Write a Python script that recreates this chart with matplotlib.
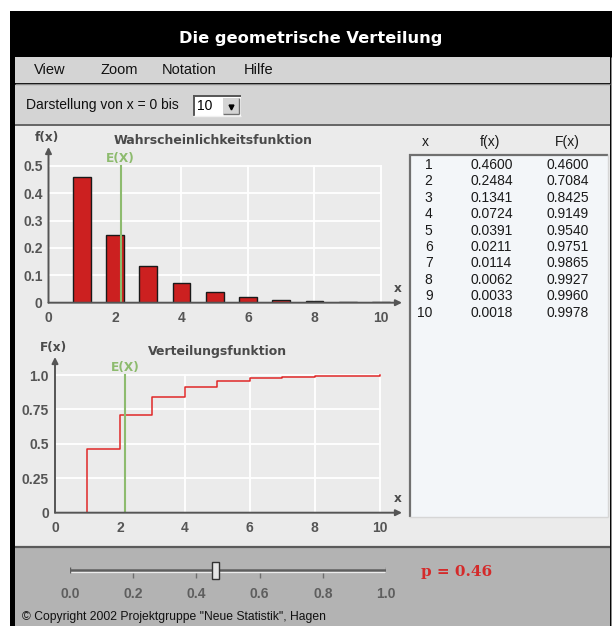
import matplotlib
matplotlib.use("Agg")
import matplotlib.pyplot as plt
from matplotlib.patches import Rectangle

# geometric distribution with p = 0.46, shown for x = 0 .. 10
p = 0.46
x_vals = [1, 2, 3, 4, 5, 6, 7, 8, 9, 10]
f_vals = [0.4600, 0.2484, 0.1341, 0.0724, 0.0391, 0.0211, 0.0114, 0.0062, 0.0033, 0.0018]
F_vals = [0.4600, 0.7084, 0.8425, 0.9149, 0.9540, 0.9751, 0.9865, 0.9927, 0.9960, 0.9978]
expected = 2.17  # E(X)

x_ticks = [0, 2, 4, 6, 8, 10]
grid_x = [4, 6, 8, 10]
f_ticks = [0, 0.1, 0.2, 0.3, 0.4, 0.5]
f_ticklabels = ["0", "0.1", "0.2", "0.3", "0.4", "0.5"]
F_ticks = [0, 0.25, 0.5, 0.75, 1.0]
F_ticklabels = ["0", "0.25", "0.5", "0.75", "1.0"]
slider_ticks = [0.0, 0.2, 0.4, 0.6, 0.8, 1.0]

menu_items = ["View", "Zoom", "Notation", "Hilfe"]
menu_x = [50, 119, 189, 259]

W, H = 612, 626
axis_col = "#555555"
label_col = "#4a4a4a"
green = "#8dbb6e"
bar_red = "#cc2020"
line_red = "#e02828"
panel = "#ebebeb"
menu_grey = "#d4d4d4"

fig = plt.figure(figsize=(W / 100, H / 100), dpi=100)
fig.patch.set_facecolor("white")

# background axes in pixel coordinates for the window chrome
bg = fig.add_axes([0, 0, 1, 1])
bg.set_xlim(0, W)
bg.set_ylim(H, 0)
bg.axis("off")

def rect(x0, y0, x1, y1, fc, ec="none", lw=0):
    bg.add_patch(Rectangle((x0, y0), x1 - x0, y1 - y0, fc=fc, ec=ec, lw=lw))

def hline(y, x0, x1, color, lw=1):
    bg.plot([x0, x1], [y, y], color=color, lw=lw, solid_capstyle="butt")

def vline(x, y0, y1, color, lw=1):
    bg.plot([x, x], [y0, y1], color=color, lw=lw, solid_capstyle="butt")

rect(10, 11, 612, 626, "black")
rect(15, 57, 610, 83, menu_grey)
rect(15, 84.5, 610, 124, menu_grey)
hline(83.5, 15, 610, "#8c8c8c", 1)
hline(124.8, 15, 610, "#6a6a6a", 1.4)
rect(15, 125.5, 610, 546, panel)
hline(547, 15, 610, "#5a5a5a", 1.6)
rect(15, 548, 610, 626, "#b3b3b3")
vline(610.5, 57, 626, "#8c8c8c", 0.8)

bg.text(311, 38, "Die geometrische Verteilung", color="white", ha="center", va="center",
        fontsize=11.7, fontweight="bold", family="DejaVu Sans")
for name, mx in zip(menu_items, menu_x):
    bg.text(mx, 70, name, ha="center", va="center", fontsize=10.5,
            family="Liberation Sans", color="#111111")

bg.text(26, 105.5, "Darstellung von x = 0 bis", ha="left", va="center", fontsize=10,
        family="Liberation Sans", color="#111111")
# combo box
rect(193, 95, 241, 116, "white")
hline(95.6, 193, 241, "#555555", 1.4)
vline(193.6, 95, 116, "#555555", 1.4)
hline(115.5, 193, 241, "#f0f0f0", 1)
rect(223, 97.5, 239, 114, menu_grey)
hline(113.6, 223, 239, "#707070", 1)
vline(238.6, 97.5, 114, "#707070", 1)
bg.plot([231], [106.5], marker="v", color="black", ms=3.5)
bg.text(197, 106, "10", ha="left", va="center", fontsize=10, family="Liberation Sans")

# table on the right
rect(409, 154, 608, 517, "#f3f6f9")
hline(154.8, 409, 608, "#707070", 1.6)
vline(409.8, 154, 517, "#707070", 1.6)
hline(516.5, 409, 608, "#d6d6d6", 1)
vline(607.5, 154, 517, "#d6d6d6", 1)
tab_font = dict(fontsize=10, family="Liberation Sans", color="#1a1a1a", va="center")
bg.text(425, 142, "x", ha="center", **tab_font)
bg.text(490, 142, "f(x)", ha="center", **tab_font)
bg.text(567, 142, "F(x)", ha="center", **tab_font)
for i, (xv, fv, Fv) in enumerate(zip(x_vals, f_vals, F_vals)):
    ry = 165 + i * 16.4
    bg.text(432.5, ry, str(xv), ha="right", **tab_font)
    bg.text(470.5, ry, f"{fv:.4f}", ha="left", **tab_font)
    bg.text(546.5, ry, f"{Fv:.4f}", ha="left", **tab_font)


def chart_axes(ox, oy, sx, sy, right_px, top_px):
    ax = fig.add_axes([ox / W, 1 - oy / H, (right_px - ox) / W, (oy - top_px) / H])
    ax.set_xlim(0, (right_px - ox) / sx)
    ax.set_ylim(0, (oy - top_px) / sy)
    ax.patch.set_alpha(0)
    for s in ax.spines.values():
        s.set_visible(False)
    return ax


def draw_frame(ax, yticks, ylabels):
    ytop = yticks[-1]
    for yv in yticks[1:]:
        ax.plot([0, 10], [yv, yv], color="white", lw=1.3, zorder=1)
    for xv in grid_x:
        ax.plot([xv, xv], [0, ytop], color="white", lw=1.3, zorder=1)
    xmax = ax.get_xlim()[1]
    ymax = ax.get_ylim()[1]
    arrow = dict(arrowstyle="-|>", color=axis_col, lw=1.4, shrinkA=0, shrinkB=0, mutation_scale=9)
    ax.annotate("", xy=(xmax, 0), xytext=(0, 0), arrowprops=arrow, annotation_clip=False, zorder=5)
    ax.annotate("", xy=(0, ymax), xytext=(0, 0), arrowprops=arrow, annotation_clip=False, zorder=5)
    ax.set_xticks(x_ticks)
    ax.set_xticklabels([str(t) for t in x_ticks])
    ax.set_yticks(yticks)
    ax.set_yticklabels(ylabels)
    ax.tick_params(axis="x", length=0, pad=6.0, labelsize=10, labelcolor=axis_col)
    ax.tick_params(axis="y", length=0, pad=4.3, labelsize=10, labelcolor=axis_col)
    for lab in ax.get_xticklabels() + ax.get_yticklabels():
        lab.set_fontweight("bold")
        lab.set_family("Liberation Sans")


txt = dict(fontweight="bold", family="DejaVu Sans", ha="center", va="center")

# probability function
ax1 = chart_axes(48.5, 302.7, 33.25, 274.0, 402, 147)
draw_frame(ax1, f_ticks, f_ticklabels)
ax1.bar(x_vals, f_vals, width=0.54, color=bar_red, edgecolor="#1a1a1a", lw=1, zorder=2)
ax1.plot([expected, expected], [0, f_ticks[-1]], color=green, lw=1.5, zorder=3)
ax1.annotate("E(X)", (expected, f_ticks[-1]), xytext=(0, 5.5), textcoords="offset points",
             color=green, fontsize=8.7, **txt)
bg.text(213, 141, "Wahrscheinlichkeitsfunktion", color=label_col, fontsize=9, **txt)
bg.text(46.5, 138, "f(x)", color=label_col, fontsize=8.7, **txt)
bg.text(398, 289, "x", color=label_col, fontsize=8.7, **txt)

# distribution function
ax2 = chart_axes(55, 512.7, 32.45, 137.7, 402, 357)
draw_frame(ax2, F_ticks, F_ticklabels)
ax2.step([0] + x_vals, [0] + F_vals, where="post", color=line_red, lw=1.1, zorder=2)
ax2.plot([expected, expected], [0, F_ticks[-1]], color=green, lw=1.5, zorder=3)
ax2.annotate("E(X)", (expected, F_ticks[-1]), xytext=(0, 5.5), textcoords="offset points",
             color=green, fontsize=8.7, **txt)
bg.text(217, 351, "Verteilungsfunktion", color=label_col, fontsize=9, **txt)
bg.text(53, 347, "F(x)", color=label_col, fontsize=8.7, **txt)
bg.text(398, 499, "x", color=label_col, fontsize=8.7, **txt)

# slider for p
axs = fig.add_axes([70 / W, 1 - 581 / H, 316 / W, 20 / H])
axs.set_xlim(0, 1)
axs.set_ylim(0, 1)
axs.patch.set_alpha(0)
for s in axs.spines.values():
    s.set_visible(False)
axs.plot([0, 1], [0.55, 0.55], color="#5e5e5e", lw=1.8, solid_capstyle="butt")
axs.plot([0, 1], [0.44, 0.44], color="#ececec", lw=0.9, solid_capstyle="butt")
axs.vlines([0, 1], 0.4, 0.7, color="#5e5e5e", lw=1)
axs.vlines(slider_ticks[1:-1], 0.15, 0.4, color="#6e6e6e", lw=1)
axs.add_patch(Rectangle((p - 0.011, 0.1), 0.022, 0.85, fc="#e4e4e4", ec="#333333", lw=1, zorder=4))
axs.set_xticks(slider_ticks)
axs.set_xticklabels([f"{t:.1f}" for t in slider_ticks])
axs.set_yticks([])
axs.tick_params(axis="x", length=0, pad=4, labelsize=10, labelcolor="#5e5e5e")
for lab in axs.get_xticklabels():
    lab.set_fontweight("bold")
    lab.set_family("Liberation Sans")

bg.text(421, 572, f"p = {p:.2f}", ha="left", va="center", color="#d42a2a", fontsize=11,
        fontweight="bold", family="DejaVu Serif")
bg.text(22, 617, "\u00a9 Copyright 2002 Projektgruppe \"Neue Statistik\", Hagen", ha="left",
        va="center", fontsize=8.7, family="Liberation Sans", color="#111111")

fig.savefig("out.png", dpi=100, facecolor="white")
